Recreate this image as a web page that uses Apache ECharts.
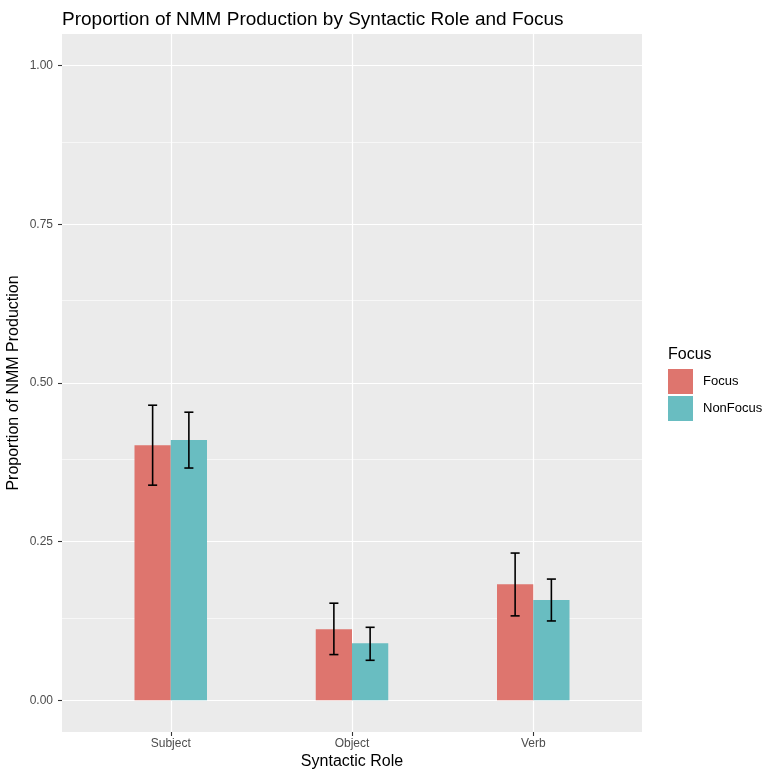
<!DOCTYPE html>
<html><head><meta charset="utf-8">
<script src="https://cdn.jsdelivr.net/npm/echarts@6/dist/echarts.min.js"></script>
<style>html,body{margin:0;padding:0;background:#fff}#c{width:765px;height:775px}</style>
</head><body><div id="c"></div>
<script>
const categories = ['Subject', 'Object', 'Verb'];
const groups = ['Focus', 'NonFocus'];
const focusMean = [0.402, 0.112, 0.183];
const focusLow = [0.339, 0.072, 0.133];
const focusHigh = [0.465, 0.153, 0.232];
const nonFocusMean = [0.410, 0.090, 0.158];
const nonFocusLow = [0.366, 0.063, 0.125];
const nonFocusHigh = [0.454, 0.115, 0.191];
const yTicks = [0, 0.25, 0.5, 0.75, 1];
const yMinor = [0.125, 0.375, 0.625, 0.875];

const colors = ['#DE756E', '#69BDC1'];
const barW = 0.2, capHalf = 0.025;
const FONT = 'Liberation Sans';

function barSeries(gi, means) {
  return {
    name: groups[gi], type: 'custom', z: 3,
    itemStyle: { color: colors[gi] },
    encode: { x: 0, y: 1 },
    data: means.map((v, i) => [i + 1, v]),
    renderItem(params, api) {
      const x = api.value(0), v = api.value(1);
      const x0 = gi === 0 ? x - barW : x;
      const p0 = api.coord([x0, v]);
      const p1 = api.coord([x0 + barW, 0]);
      return { type: 'rect', shape: { x: p0[0], y: p0[1], width: p1[0] - p0[0], height: p1[1] - p0[1] },
        style: { fill: colors[gi] } };
    }
  };
}
function errSeries(gi, lows, highs) {
  return {
    type: 'custom', z: 4, silent: true,
    encode: { x: 0, y: [1, 2] },
    data: lows.map((l, i) => [i + 1, l, highs[i]]),
    renderItem(params, api) {
      const xc = api.value(0) + (gi === 0 ? -barW / 2 : barW / 2);
      const lo = api.value(1), hi = api.value(2);
      const a = api.coord([xc, hi]), b = api.coord([xc, lo]);
      const l = api.coord([xc - capHalf, hi])[0], r = api.coord([xc + capHalf, hi])[0];
      const st = { stroke: '#000', lineWidth: 1.6 };
      return { type: 'group', children: [
        { type: 'line', shape: { x1: a[0], y1: a[1], x2: b[0], y2: b[1] }, style: st },
        { type: 'line', shape: { x1: l, y1: a[1], x2: r, y2: a[1] }, style: st },
        { type: 'line', shape: { x1: l, y1: b[1], x2: r, y2: b[1] }, style: st }
      ] };
    }
  };
}

const chart = echarts.init(document.getElementById('c'), null, { renderer: 'canvas' });
chart.setOption({
  animation: false,
  textStyle: { fontFamily: FONT },
  title: [
    { text: 'Proportion of NMM Production by Syntactic Role and Focus', left: 57, top: 5,
      textStyle: { fontFamily: FONT, fontSize: 19, fontWeight: 'normal', color: '#000' } },
    { text: 'Focus', left: 663, top: 342,
      textStyle: { fontFamily: FONT, fontSize: 16, fontWeight: 'normal', color: '#000' } }
  ],
  legend: {
    orient: 'vertical', left: 663, top: 364, itemWidth: 25, itemHeight: 25, itemGap: 2,
    data: groups.map(g => ({ name: g, icon: 'rect' })),
    textStyle: { fontFamily: FONT, fontSize: 13, color: '#000', padding: [0, 0, 0, 5] },
    selectedMode: false
  },
  grid: { left: 62, right: 123, top: 34, bottom: 43, show: true, backgroundColor: '#EBEBEB', borderWidth: 0,
    outerBoundsMode: 'none', containLabel: false },
  xAxis: {
    type: 'value', min: 0.4, max: 3.6,
    name: 'Syntactic Role', nameLocation: 'middle', nameGap: 22, nameMoveOverlap: false,
    nameTextStyle: { fontFamily: FONT, fontSize: 16, color: '#000' },
    axisLine: { show: false, onZero: false },
    axisTick: { show: true, length: 4, lineStyle: { color: '#333', width: 1.1 }, customValues: [1, 2, 3] },
    axisLabel: { customValues: [1, 2, 3], formatter: v => categories[Math.round(v) - 1] || '',
      fontFamily: FONT, fontSize: 12, color: '#4D4D4D', margin: 6 },
    splitLine: { show: true, lineStyle: { color: '#fff', width: 1.2 } }
  },
  yAxis: {
    type: 'value', min: -0.05, max: 1.05,
    name: 'Proportion of NMM Production', nameLocation: 'middle', nameGap: 40, nameRotate: 90,
    nameMoveOverlap: false,
    nameTextStyle: { fontFamily: FONT, fontSize: 16, color: '#000' },
    axisLine: { show: false, onZero: false },
    axisTick: { show: true, length: 4, lineStyle: { color: '#333', width: 1.1 }, customValues: yTicks },
    axisLabel: { customValues: yTicks, formatter: v => v.toFixed(2),
      fontFamily: FONT, fontSize: 12, color: '#4D4D4D', margin: 9 },
    splitLine: { show: true, lineStyle: { color: '#fff', width: 1.2 } }
  },
  series: [
    {
      type: 'line', data: [], z: 1, silent: true,
      markLine: {
        silent: true, symbol: 'none', label: { show: false }, z: 1, animation: false,
        lineStyle: { color: '#fff', width: 0.6, type: 'solid' },
        data: yMinor.map(v => ({ yAxis: v }))
      }
    },
    barSeries(0, focusMean),
    barSeries(1, nonFocusMean),
    errSeries(0, focusLow, focusHigh),
    errSeries(1, nonFocusLow, nonFocusHigh)
  ]
});
</script></body></html>
